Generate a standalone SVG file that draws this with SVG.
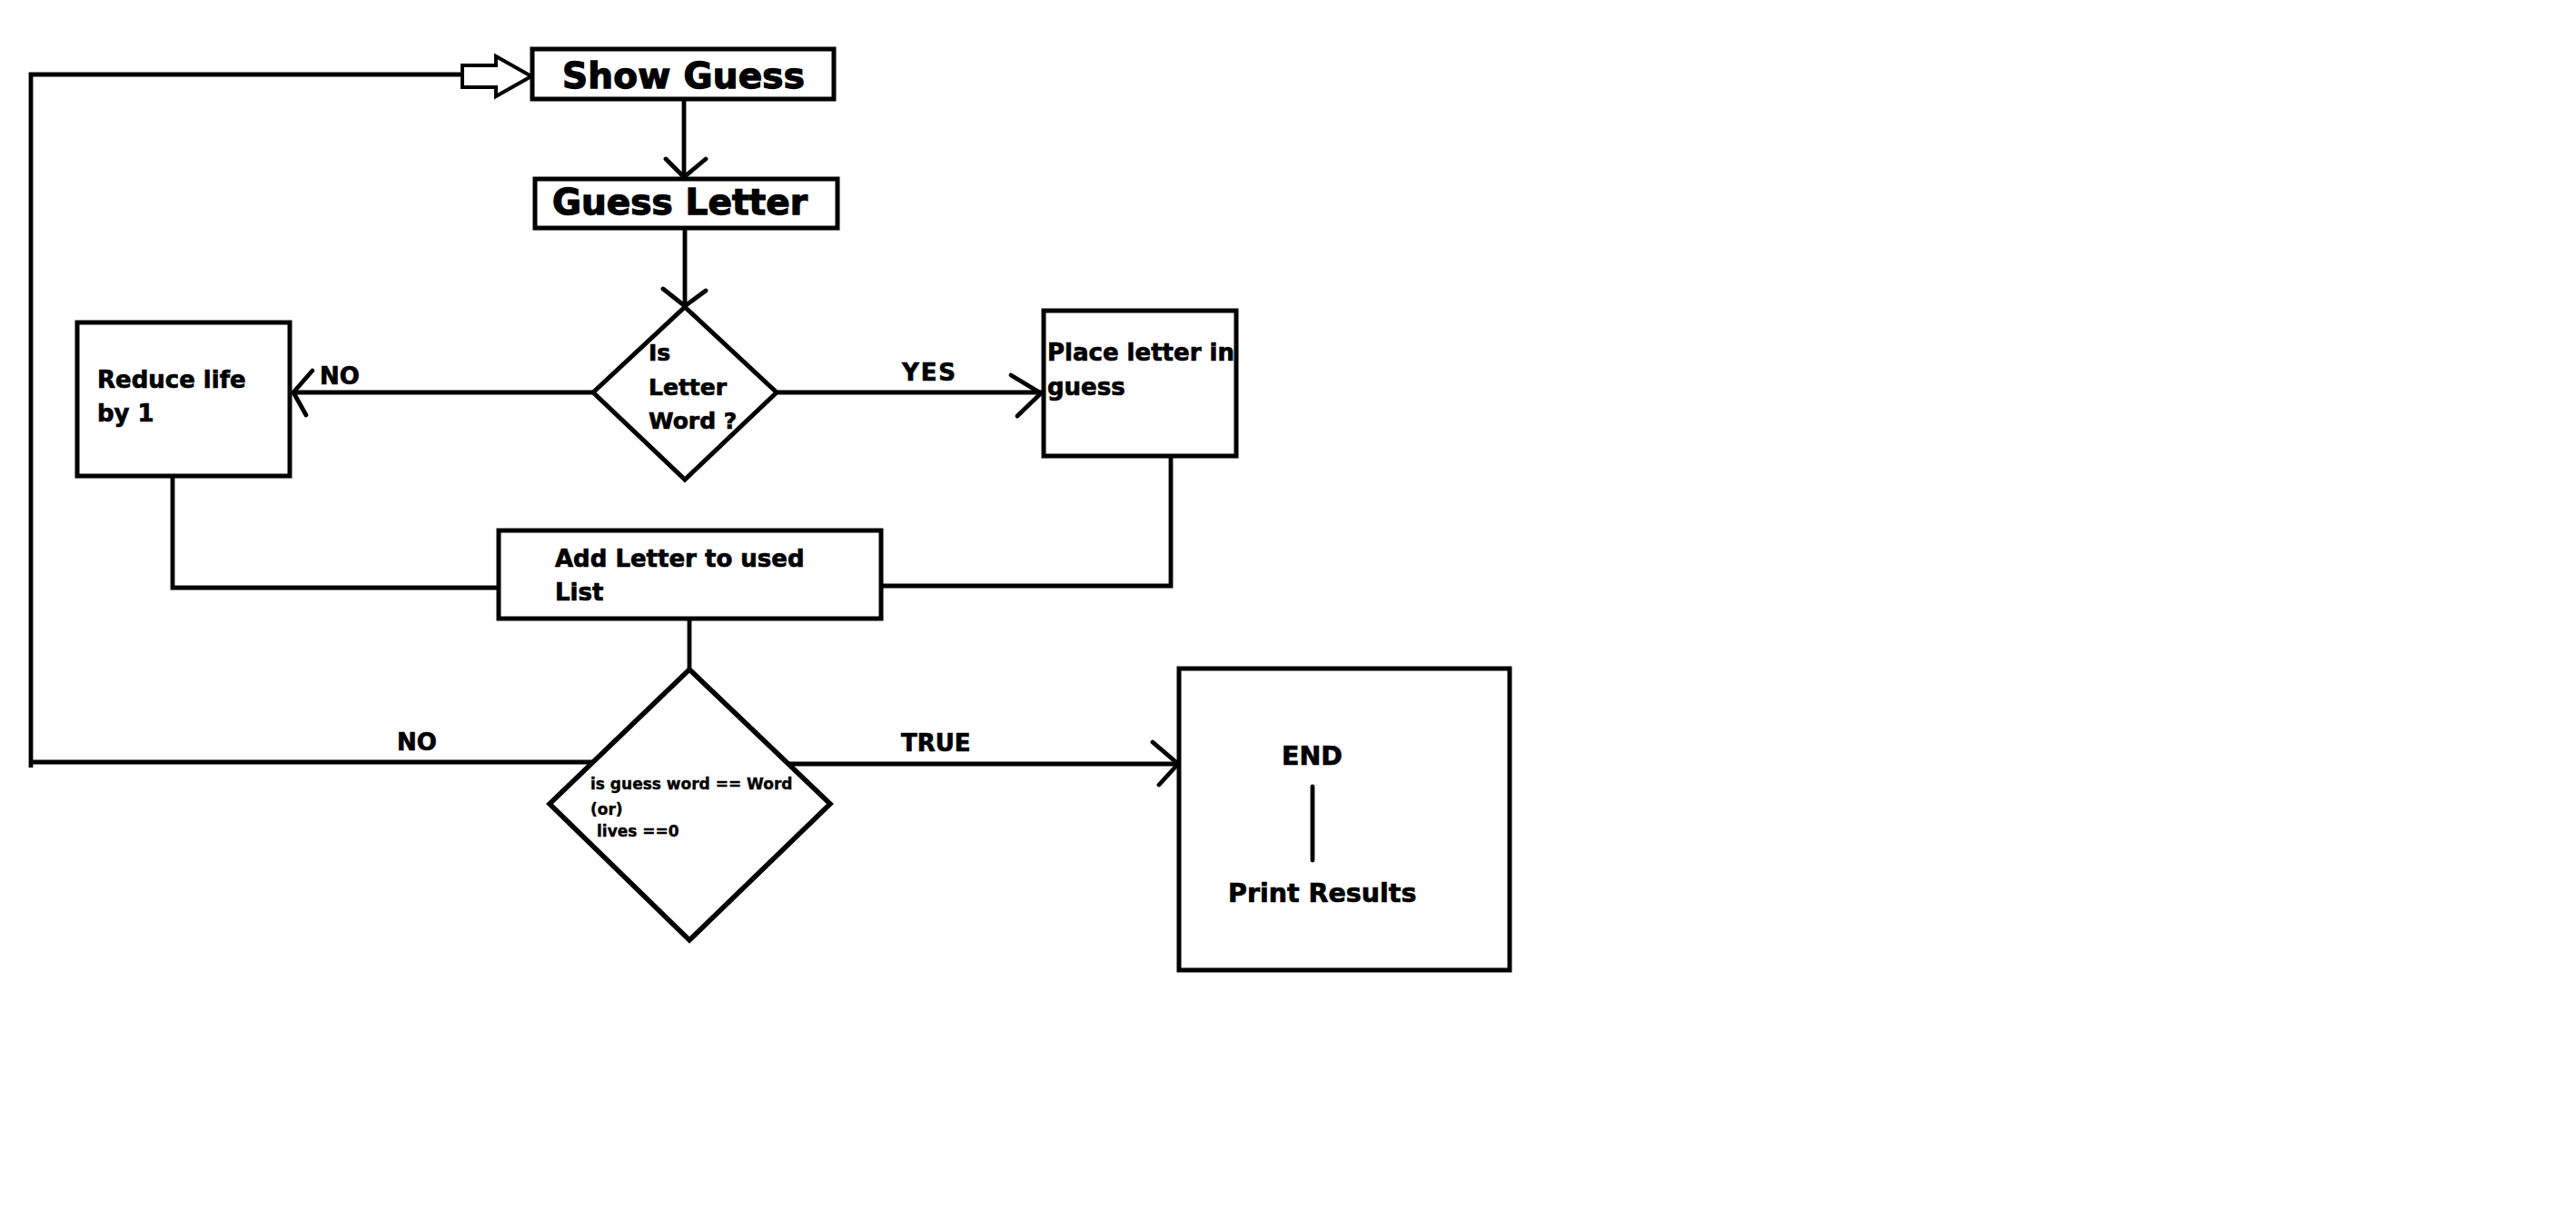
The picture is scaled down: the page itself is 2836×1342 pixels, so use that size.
<svg xmlns="http://www.w3.org/2000/svg" width="2836" height="1342" viewBox="0 0 2836 1342">
<style>
.box{fill:#fff;stroke:#000;stroke-width:5}
.dia{fill:#fff;stroke:#000;stroke-width:5}
.ln{fill:none;stroke:#000;stroke-width:4.8}
.hd{fill:none;stroke:#000;stroke-width:4.8;stroke-linecap:round;stroke-linejoin:miter}
.hollow{fill:#fff;stroke:#000;stroke-width:4;stroke-linejoin:miter}
text{font-family:"DejaVu Sans","Liberation Sans",sans-serif;font-weight:bold;fill:#000;stroke:#000;stroke-width:0.7}
.big{font-size:39px;stroke-width:1.3}
.mid{font-size:26px}
.sm{font-size:25px}
.xs{font-size:17px;stroke-width:0.4}
.end{font-size:28.5px}
</style>
<rect width="2836" height="1342" fill="#fff"/>
<g id="connectors">
<polyline class="ln" points="509,82 34,82 34,845"/>
<line class="ln" x1="32" y1="839" x2="653" y2="839"/>
<polygon class="hollow" points="509,72 546,72 546,62 585,84 546,106 546,96 509,96"/>
<line class="ln" x1="753" y1="111" x2="753" y2="195"/>
<polyline class="hd" points="733,175 753,195 777,175"/>
<line class="ln" x1="754" y1="253" x2="754" y2="337"/>
<polyline class="hd" points="730,318 754,337 777,320"/>
<line class="ln" x1="323" y1="432" x2="653" y2="432"/>
<polyline class="hd" points="344,408 323,432 337,457"/>
<line class="ln" x1="855" y1="432" x2="1147" y2="432"/>
<polyline class="hd" points="1113,413 1146,433 1120,458"/>
<polyline class="ln" points="190,526 190,647 549,647"/>
<polyline class="ln" points="1289,504 1289,645 970,645"/>
<line class="ln" x1="759" y1="683" x2="759" y2="737"/>
<line class="ln" x1="868" y1="841" x2="1298" y2="841"/>
<polyline class="hd" points="1269,817 1297,841 1276,864"/>
<text class="mid" x="352" y="423">NO</text>
<text class="mid" x="993" y="419" textLength="59">YES</text>
<text class="mid" x="437" y="826">NO</text>
<text class="mid" x="992" y="827">TRUE</text>
</g>
<g id="show-guess">
<rect class="box" x="586" y="54" width="332" height="55"/>
<text class="big" x="619" y="97" textLength="267">Show Guess</text>
</g>
<g id="guess-letter">
<rect class="box" x="589" y="197" width="333" height="54"/>
<text class="big" x="608" y="236" textLength="281">Guess Letter</text>
</g>
<g id="is-letter-word">
<polygon class="dia" points="754,338 855,432 754,528 653,432"/>
<text class="sm" x="714" y="397">Is</text>
<text class="sm" x="714" y="435">Letter</text>
<text class="sm" x="714" y="472">Word ?</text>
</g>
<g id="reduce-life">
<rect class="box" x="85" y="355" width="234" height="169"/>
<text class="mid" x="107" y="427">Reduce life</text>
<text class="mid" x="107" y="464">by 1</text>
</g>
<g id="place-letter">
<rect class="box" x="1149" y="342" width="212" height="160"/>
<text class="mid" x="1153" y="397">Place letter in</text>
<text class="mid" x="1153" y="435">guess</text>
</g>
<g id="add-letter">
<rect class="box" x="549" y="584" width="421" height="97"/>
<text class="mid" x="611" y="624">Add Letter to used</text>
<text class="mid" x="611" y="661">List</text>
</g>
<g id="is-guess-word">
<polygon class="dia" style="stroke-width:5.5" points="759,737 914,885 759,1035 605,885"/>
<text class="xs" x="650" y="869">is guess word == Word</text>
<text class="xs" x="650" y="897">(or)</text>
<text class="xs" x="657" y="921">lives ==0</text>
</g>
<g id="end">
<rect class="box" x="1298" y="736" width="364" height="332"/>
<text class="end" x="1411" y="842">END</text>
<line class="hd" x1="1445" y1="866" x2="1445" y2="947"/>
<text class="end" x="1352" y="993">Print Results</text>
</g>
</svg>
